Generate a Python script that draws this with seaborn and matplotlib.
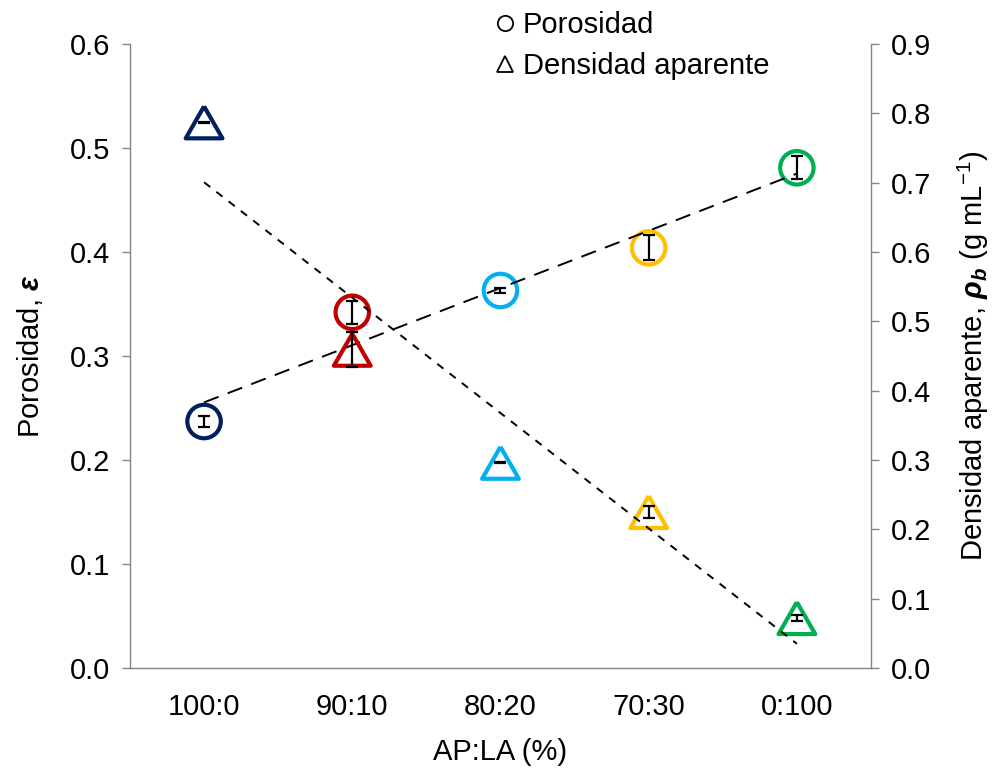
import numpy as np
import matplotlib
matplotlib.use("Agg")
import matplotlib.pyplot as plt
from matplotlib.lines import Line2D
import seaborn as sns

# Blend ratios (AP:LA) and measured properties
categories = ["100:0", "90:10", "80:20", "70:30", "0:100"]
porosity = [0.237, 0.342, 0.363, 0.404, 0.481]
porosity_err = [0.005, 0.011, 0.002, 0.012, 0.011]
density = [0.787, 0.459, 0.296, 0.225, 0.072]
density_err = [0.001, 0.025, 0.001, 0.009, 0.004]
colors = ["#002060", "#C00000", "#00B0F0", "#FFC000", "#00B050"]

sns.set_theme(style="white")
plt.rcParams["font.family"] = ["Liberation Sans", "DejaVu Sans"]
plt.rcParams["mathtext.fontset"] = "custom"
plt.rcParams["mathtext.rm"] = "Liberation Sans"
plt.rcParams["mathtext.it"] = "Liberation Sans:italic"
plt.rcParams["mathtext.bf"] = "Liberation Sans:bold:italic"
plt.rcParams["text.color"] = "black"
plt.rcParams["axes.labelcolor"] = "black"

FS = 21
axis_gray = "#868686"

fig = plt.figure(figsize=(9.92, 7.72), dpi=100)
ax = fig.add_axes([0.131, 0.1347, 0.747, 0.8083])
ax2 = ax.twinx()

pos = np.arange(len(categories))

# Porosity: hollow circles, error bars and linear trend
sns.scatterplot(x=pos, y=porosity, hue=categories, palette=colors,
                marker="o", s=580, linewidth=3, legend=False, ax=ax)
coll = ax.collections[-1]
coll.set_edgecolors(coll.get_facecolors())
coll.set_facecolors("none")
ax.errorbar(pos, porosity, yerr=porosity_err, fmt="none", ecolor="black",
            elinewidth=1.6, capsize=4, capthick=1.6, zorder=5)
sns.regplot(x=pos, y=porosity, scatter=False, ci=None, truncate=True, ax=ax,
            line_kws=dict(color="black", lw=1.4, ls=(0, (8, 5))))

# Bulk density: hollow triangles, error bars and linear trend
tri = [(0, 0.87), (-1, -0.87), (1, -0.87), (0, 0.87)]
sns.scatterplot(x=pos, y=density, hue=categories, palette=colors,
                marker=tri, s=700, linewidth=3, legend=False, ax=ax2)
coll2 = ax2.collections[-1]
coll2.set_edgecolors(coll2.get_facecolors())
coll2.set_facecolors("none")
ax2.errorbar(pos, density, yerr=density_err, fmt="none", ecolor="black",
             elinewidth=1.6, capsize=4, capthick=1.6, zorder=5)
sns.regplot(x=pos, y=density, scatter=False, ci=None, truncate=True, ax=ax2,
            line_kws=dict(color="black", lw=1.4, ls=(0, (4, 4))))

# Axes limits, ticks and labels
ax.set_xlim(-0.5, len(categories) - 0.5)
ax.set_ylim(0, 0.6)
ax2.set_ylim(0, 0.9)
ax.set_xticks(pos)
ax.set_xticklabels(categories)
ax.set_yticks(np.arange(0, 0.61, 0.1))
ax.set_yticklabels([f"{v:.1f}" for v in np.arange(0, 0.61, 0.1)])
ax2.set_yticks(np.arange(0, 0.91, 0.1))
ax2.set_yticklabels([f"{v:.1f}" for v in np.arange(0, 0.91, 0.1)])

for a in (ax, ax2):
    for s in a.spines.values():
        s.set_visible(False)
    a.grid(False)
ax.spines["left"].set_visible(True)
ax.spines["bottom"].set_visible(True)
ax2.spines["right"].set_visible(True)
for s in (ax.spines["left"], ax.spines["bottom"], ax2.spines["right"]):
    s.set_color(axis_gray)
    s.set_linewidth(1.0)

ax.tick_params(axis="y", which="major", direction="out", length=6, width=1,
               color=axis_gray, labelsize=FS, labelcolor="black", left=True, pad=8)
ax.tick_params(axis="x", which="major", length=0, labelsize=FS,
               labelcolor="black", pad=18)
ax2.tick_params(axis="y", which="major", direction="out", length=6, width=1,
                color=axis_gray, labelsize=FS, labelcolor="black", right=True, pad=8)

ax.set_xlabel("AP:LA (%)", fontsize=FS, labelpad=12)
ax.set_ylabel(r"Porosidad, $\mathbf{\varepsilon}$", fontsize=FS, labelpad=18)
ax2.set_ylabel(r"Densidad aparente, $\mathbf{\rho_b}$ (g mL$^{-1}$)",
               fontsize=FS, labelpad=18)

# Legend for the two series
handles = [
    Line2D([], [], ls="none", marker="o", mfc="none", mec="black", ms=11, mew=1.3),
    Line2D([], [], ls="none", marker="^", mfc="none", mec="black", ms=11, mew=1.3),
]
fig.legend(handles, ["Porosidad", "Densidad aparente"], loc="upper left",
           bbox_to_anchor=(0.48, 1.012), frameon=False, fontsize=FS,
           handlelength=0.6, handletextpad=0.3, labelspacing=0.45, borderpad=0.2,
           labelcolor="black")

fig.savefig("out.png", dpi=100, facecolor="white")
